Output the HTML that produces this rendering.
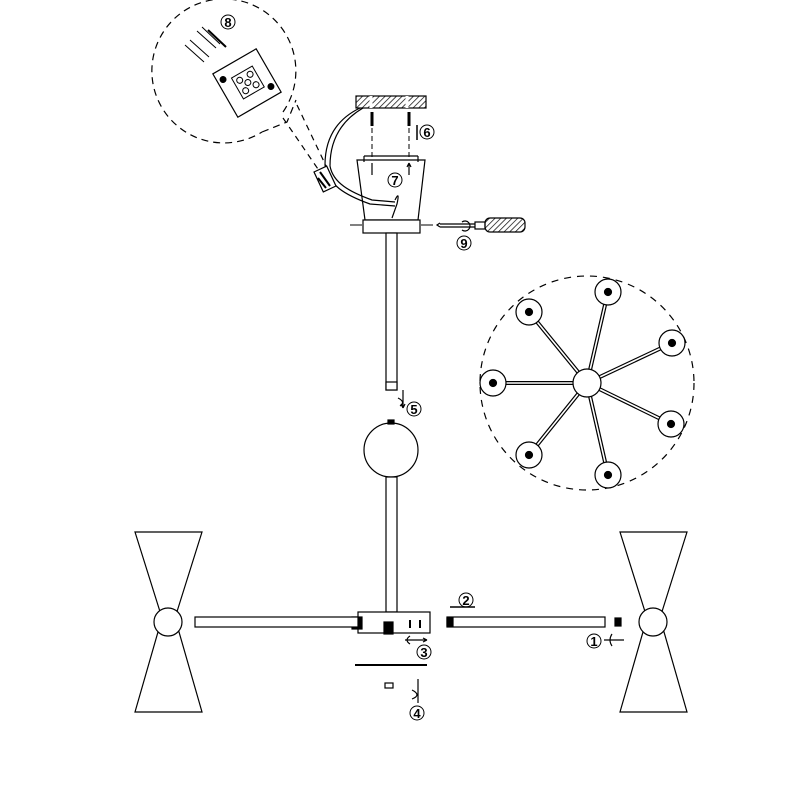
<!DOCTYPE html>
<html><head><style>html,body{margin:0;padding:0;background:#fff}svg{display:block}</style></head>
<body>
<svg width="800" height="800" viewBox="0 0 800 800" xmlns="http://www.w3.org/2000/svg" font-family="Liberation Sans, sans-serif">
<defs>
<pattern id="h" width="4" height="4" patternUnits="userSpaceOnUse" patternTransform="rotate(45)"><line x1="0" y1="0" x2="0" y2="4" stroke="#000" stroke-width="1.4"/></pattern>
</defs>
<g fill="none" stroke="#000" stroke-width="1.2">
<!-- left dashed callout -->
<path d="M283,112 A72,72 0 1 0 262,132" stroke-dasharray="7,5"/>
<path d="M262,132 L287,122 L296,100" stroke-dasharray="7,5"/>
<path d="M283,118 L320,172 M297,105 L328,170" stroke-dasharray="6,5"/>
<!-- terminal block in callout -->
<rect x="222" y="58" width="50" height="50" transform="rotate(-30 247 83)" fill="#fff"/>
<g transform="rotate(-30 247 83)" stroke-width="1">
<rect x="236" y="71" width="24" height="24"/>
<circle cx="242" cy="77" r="3"/><circle cx="254" cy="77" r="3"/><circle cx="242" cy="89" r="3"/><circle cx="254" cy="89" r="3"/><circle cx="248" cy="83" r="3"/>
<circle cx="228" cy="68" r="3" fill="#000"/><circle cx="266" cy="98" r="3" fill="#000"/>
</g>
<path d="M185,45 L204,62 M190,40 L209,57 M197,31 L216,48 M202,27 L220,44" stroke-width="1"/>
<path d="M208,30 L226,47" stroke-width="2"/>
<!-- ceiling plate -->
<rect x="356" y="96" width="70" height="12" fill="url(#h)"/>
<path d="M371,96 v12 M407,96 v12" stroke="#fff" stroke-width="3"/>
<!-- screws -->
<path d="M372,112 v14 M409,112 v14" stroke-width="3"/>
<path d="M372,128 v32 M409,128 v32" stroke-dasharray="5,3" stroke-width="1"/>
<path d="M417,140 v-15" stroke-width="1.5"/>
<!-- canopy -->
<path d="M357,160 L425,160 L418,220 L365,220 Z"/>
<path d="M364,156 h54 M364,156 v6 M418,156 v6"/>
<path d="M372,163 v12 M409,163 v12 M409,163 l-2,4 M409,163 l2,4"/>
<!-- wire -->
<path d="M360,108 C335,120 325,140 325,165 C328,185 345,195 370,204 L395,206" />
<path d="M363,108 C339,122 330,142 330,166 C333,183 350,192 372,200 L395,202"/>
<rect x="318" y="168" width="14" height="22" transform="rotate(-25 325 179)" fill="#fff"/>
<path d="M320,172 l10,14 M318,178 l8,10" stroke-width="2"/>
<path d="M395,200 q5,-10 2,4 L392,218"/>
<!-- base plate and rod -->
<rect x="363" y="220" width="57" height="13" fill="#fff"/>
<path d="M350,225 h12 M421,225 h12" stroke-width="1"/>
<rect x="386" y="233" width="11" height="157" fill="#fff"/>
<rect x="386" y="382" width="11" height="8" fill="#fff"/>
<path d="M403,390 v18 M403,408 l-2,-4 M403,408 l2,-4"/>
<path d="M398,398 q8,4 2,8"/>
<!-- screwdriver -->
<path d="M440,227 h35 M440,224 h35 M440,227 l-3,-2 l3,-2"/>
<rect x="475" y="222" width="10" height="7" fill="#fff"/>
<rect x="485" y="218" width="40" height="14" rx="5" fill="url(#h)"/>
<path d="M462,222 a5,5 0 1 1 0,8"/>
<!-- ball -->
<circle cx="391" cy="450" r="27" fill="#fff"/>
<rect x="388" y="420" width="6" height="4" fill="#000"/>
<rect x="386" y="477" width="11" height="135" fill="#fff"/>
<!-- hub -->
<rect x="358" y="612" width="72" height="21" fill="#fff"/>
<rect x="352" y="617" width="10" height="12" fill="#000"/>
<rect x="384" y="622" width="9" height="12" fill="#000"/>
<path d="M410,620 v8 M420,620 v8" stroke-width="2"/>
<path d="M405,640 h22 M427,640 l-4,-2 M427,640 l-4,2 M410,636 q-6,4 0,8"/>
<path d="M355,665 h72" stroke-width="2"/>
<rect x="385" y="683" width="8" height="5"/>
<path d="M418,679 v24 M412,690 q10,5 0,9"/>
<!-- arms -->
<rect x="195" y="617" width="163" height="10" fill="#fff"/>
<rect x="447" y="617" width="158" height="10" fill="#fff"/>
<rect x="447" y="618" width="6" height="8" fill="#000"/>
<rect x="615" y="618" width="6" height="8" fill="#000"/>
<path d="M450,607 h25" stroke-width="1.5"/>
<path d="M604,640 h20 M612,634 q-4,6 0,12"/>
<!-- shades -->
<path d="M135,532 L202,532 L175,618 L202,712 L135,712 L162,618 Z" fill="#fff"/>
<circle cx="168" cy="622" r="14" fill="#fff"/>
<path d="M620,532 L687,532 L660,618 L687,712 L620,712 L647,618 Z" fill="#fff"/>
<circle cx="653" cy="622" r="14" fill="#fff"/>
<!-- right top view -->
<circle cx="587" cy="383" r="107" stroke-dasharray="7,6"/>
<g stroke-width="1">
<path d="M587,383 L529,312 M587,383 L608,292 M587,383 L672,343 M587,383 L671,424 M587,383 L608,475 M587,383 L529,455 M587,383 L493,383" stroke-width="4"/>
<path d="M587,383 L529,312 M587,383 L608,292 M587,383 L672,343 M587,383 L671,424 M587,383 L608,475 M587,383 L529,455 M587,383 L493,383" stroke="#fff" stroke-width="1.6"/>
</g>
<circle cx="587" cy="383" r="14" fill="#fff"/>
<g fill="#fff">
<circle cx="529" cy="312" r="13"/><circle cx="608" cy="292" r="13"/><circle cx="672" cy="343" r="13"/><circle cx="671" cy="424" r="13"/><circle cx="608" cy="475" r="13"/><circle cx="529" cy="455" r="13"/><circle cx="493" cy="383" r="13"/>
</g>
<g fill="#000">
<circle cx="529" cy="312" r="3.5"/><circle cx="608" cy="292" r="3.5"/><circle cx="672" cy="343" r="3.5"/><circle cx="671" cy="424" r="3.5"/><circle cx="608" cy="475" r="3.5"/><circle cx="529" cy="455" r="3.5"/><circle cx="493" cy="383" r="3.5"/>
</g>
</g>
<g font-size="13" font-weight="bold" text-anchor="middle">
<circle cx="228" cy="22" r="7" fill="none" stroke="#000"/><text x="228" y="27">8</text>
<circle cx="427" cy="132" r="7" fill="none" stroke="#000"/><text x="427" y="137">6</text>
<circle cx="395" cy="180" r="7" fill="none" stroke="#000"/><text x="395" y="185">7</text>
<circle cx="464" cy="243" r="7" fill="none" stroke="#000"/><text x="464" y="248">9</text>
<circle cx="414" cy="409" r="7" fill="none" stroke="#000"/><text x="414" y="414">5</text>
<circle cx="466" cy="600" r="7" fill="none" stroke="#000"/><text x="466" y="605">2</text>
<circle cx="424" cy="652" r="7" fill="none" stroke="#000"/><text x="424" y="657">3</text>
<circle cx="417" cy="713" r="7" fill="none" stroke="#000"/><text x="417" y="718">4</text>
<circle cx="594" cy="641" r="7" fill="none" stroke="#000"/><text x="594" y="646">1</text>
</g>
</svg>
</body></html>
